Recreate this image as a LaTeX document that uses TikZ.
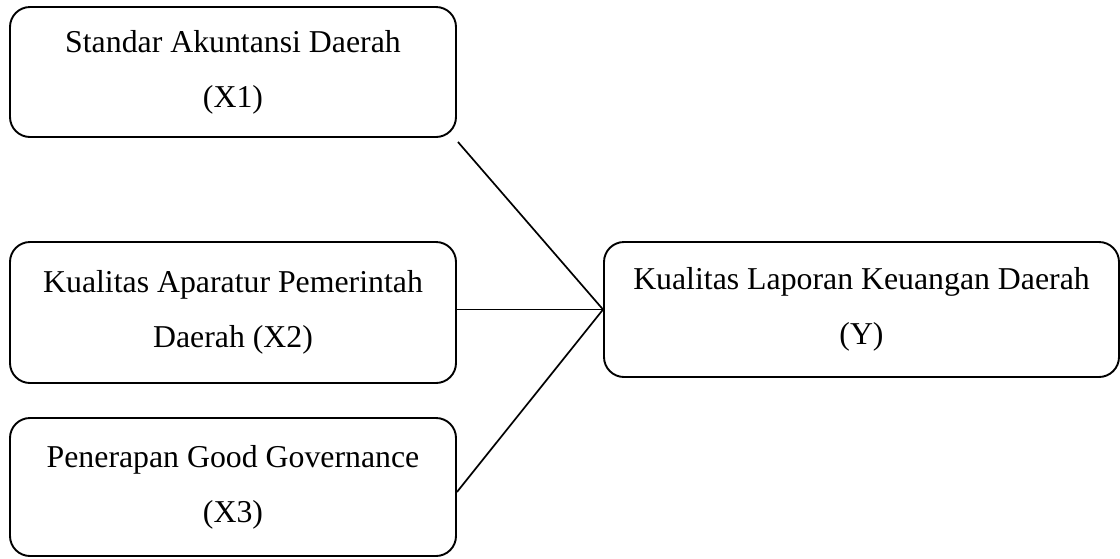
\documentclass[tikz,border=0pt]{standalone}
\usepackage{fontspec}
\setmainfont{Liberation Serif}
\begin{document}
\begin{tikzpicture}[x=1pt,y=-1pt,
  box/.style={draw, line width=1.9pt, rounded corners=20pt, align=center, inner sep=0pt,
    font=\fontsize{31.8}{55}\selectfont},
  link/.style={line width=1.7pt}]
\useasboundingbox (0,0) rectangle (1120,558);
\node[box, minimum width=446pt, minimum height=130pt] (x1) at (233,72) {Standar Akuntansi Daerah\\(X1)};
\node[box, minimum width=446pt, minimum height=141pt] (x2) at (233,312.5) {Kualitas Aparatur Pemerintah\\Daerah (X2)};
\node[box, minimum width=446pt, minimum height=138pt] (x3) at (233,487) {Penerapan Good Governance\\(X3)};
\node[box, minimum width=515pt, minimum height=135pt] (y) at (861.5,309.5) {Kualitas Laporan Keuangan Daerah\\(Y)};
\draw[link] ([shift={(1pt,-4pt)}]x1.south east) -- (y.west);
\draw[link] (x2.east |- y.west) -- (y.west);
\draw[link] ([yshift=-5pt]x3.east) -- (y.west);
\end{tikzpicture}
\end{document}
